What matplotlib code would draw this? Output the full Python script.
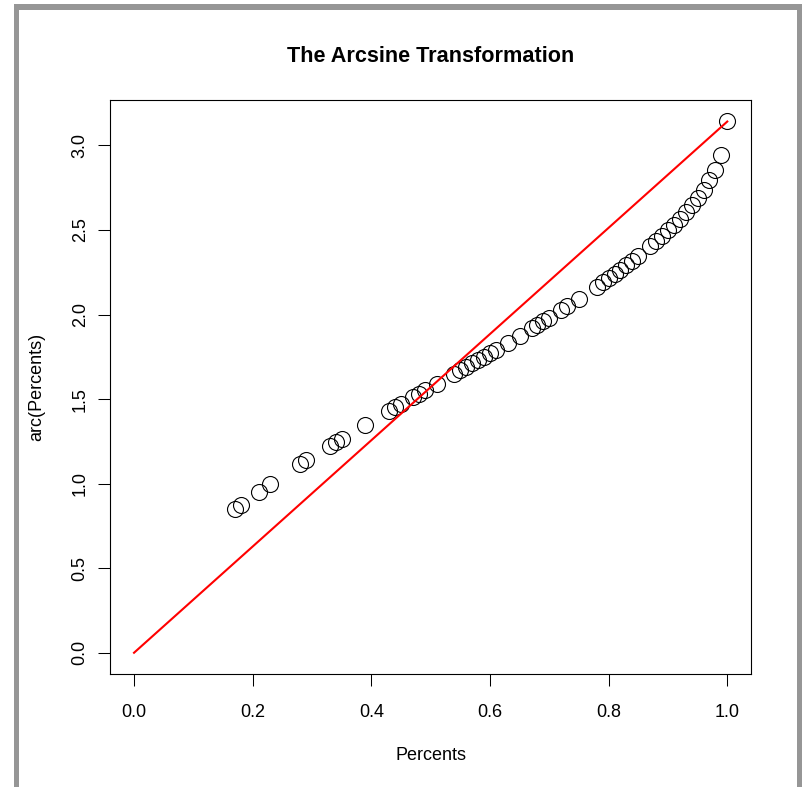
import numpy as np
import matplotlib
matplotlib.use("Agg")
import matplotlib.pyplot as plt
from matplotlib.patches import Rectangle

# values
percents = [0.17, 0.18, 0.21, 0.23, 0.28, 0.29, 0.33, 0.34, 0.35, 0.39,
            0.43, 0.44, 0.45, 0.47, 0.48, 0.49, 0.51,
            0.54, 0.55, 0.56, 0.57, 0.58, 0.59, 0.60, 0.61, 0.63, 0.65,
            0.67, 0.68, 0.69, 0.70, 0.72, 0.73, 0.75,
            0.78, 0.79, 0.80, 0.81, 0.82, 0.83, 0.84, 0.85,
            0.87, 0.88, 0.89, 0.90, 0.91, 0.92, 0.93, 0.94, 0.95, 0.96,
            0.97, 0.98, 0.99, 1.00]
arc_percents = [0.850, 0.876, 0.952, 1.000, 1.115, 1.137, 1.224, 1.245, 1.266, 1.349,
                1.430, 1.451, 1.471, 1.511, 1.531, 1.551, 1.591,
                1.651, 1.671, 1.691, 1.711, 1.732, 1.752, 1.772, 1.793, 1.834, 1.876,
                1.918, 1.939, 1.961, 1.982, 2.026, 2.049, 2.094,
                2.165, 2.190, 2.214, 2.240, 2.265, 2.292, 2.319, 2.346,
                2.404, 2.434, 2.466, 2.498, 2.532, 2.568, 2.606, 2.646, 2.691, 2.739,
                2.793, 2.858, 2.941, 3.142]
line_x = [0.0, 1.0]
line_y = [0.0, 3.1416]

plt.rcParams['font.family'] = ['Liberation Sans', 'DejaVu Sans']

W, H = 807, 787
fig = plt.figure(figsize=(W / 100, H / 100), dpi=100)

# grey frame around the picture
grey = '#969696'
for (x0, y0, w, h) in [(14, 4, 788, 5.5), (14, 4, 5, 783), (797, 4, 5, 783)]:
    fig.patches.append(Rectangle((x0 / W, 1 - (y0 + h) / H), w / W, h / H,
                                 transform=fig.transFigure, color=grey, lw=0))

ax = fig.add_axes([110.3 / W, 1 - 674 / H, (751 - 110.3) / W, (674 - 100.3) / H])

ax.plot(percents, arc_percents, 'o', mfc='none', mec='black', ms=11.5, mew=0.8)
ax.plot(line_x, line_y, color='red', lw=1.5)

ax.set_xlim(-0.04, 1.04)
ax.set_ylim(-0.04 * 3.1416, 1.04 * 3.1416)
ax.set_xticks(np.arange(0, 1.01, 0.2))
ax.set_xticklabels(['0.0', '0.2', '0.4', '0.6', '0.8', '1.0'])
ax.set_yticks(np.arange(0, 3.01, 0.5))
ax.set_yticklabels(['0.0', '0.5', '1.0', '1.5', '2.0', '2.5', '3.0'],
                   rotation=90, va='center')
ax.tick_params(axis='x', length=8.6, width=0.75, pad=13, labelsize=13)
ax.tick_params(axis='y', length=8.6, width=0.75, pad=7, labelsize=13)
for s in ax.spines.values():
    s.set_linewidth(0.8)

ax.set_xlabel('Percents', fontsize=13, va='center')
ax.xaxis.set_label_coords(0.5, -(755 - 674) / (674 - 100.3))
ax.set_ylabel('arc(Percents)', fontsize=13, va='center')
ax.yaxis.set_label_coords(-(110.3 - 37) / (751 - 110.3), 0.5)

fig.text((110.3 + 751) / 2 / W, 1 - 57 / H, 'The Arcsine Transformation',
         fontsize=15.6, fontweight='bold', ha='center', va='center')

fig.savefig('out.png', dpi=100)
